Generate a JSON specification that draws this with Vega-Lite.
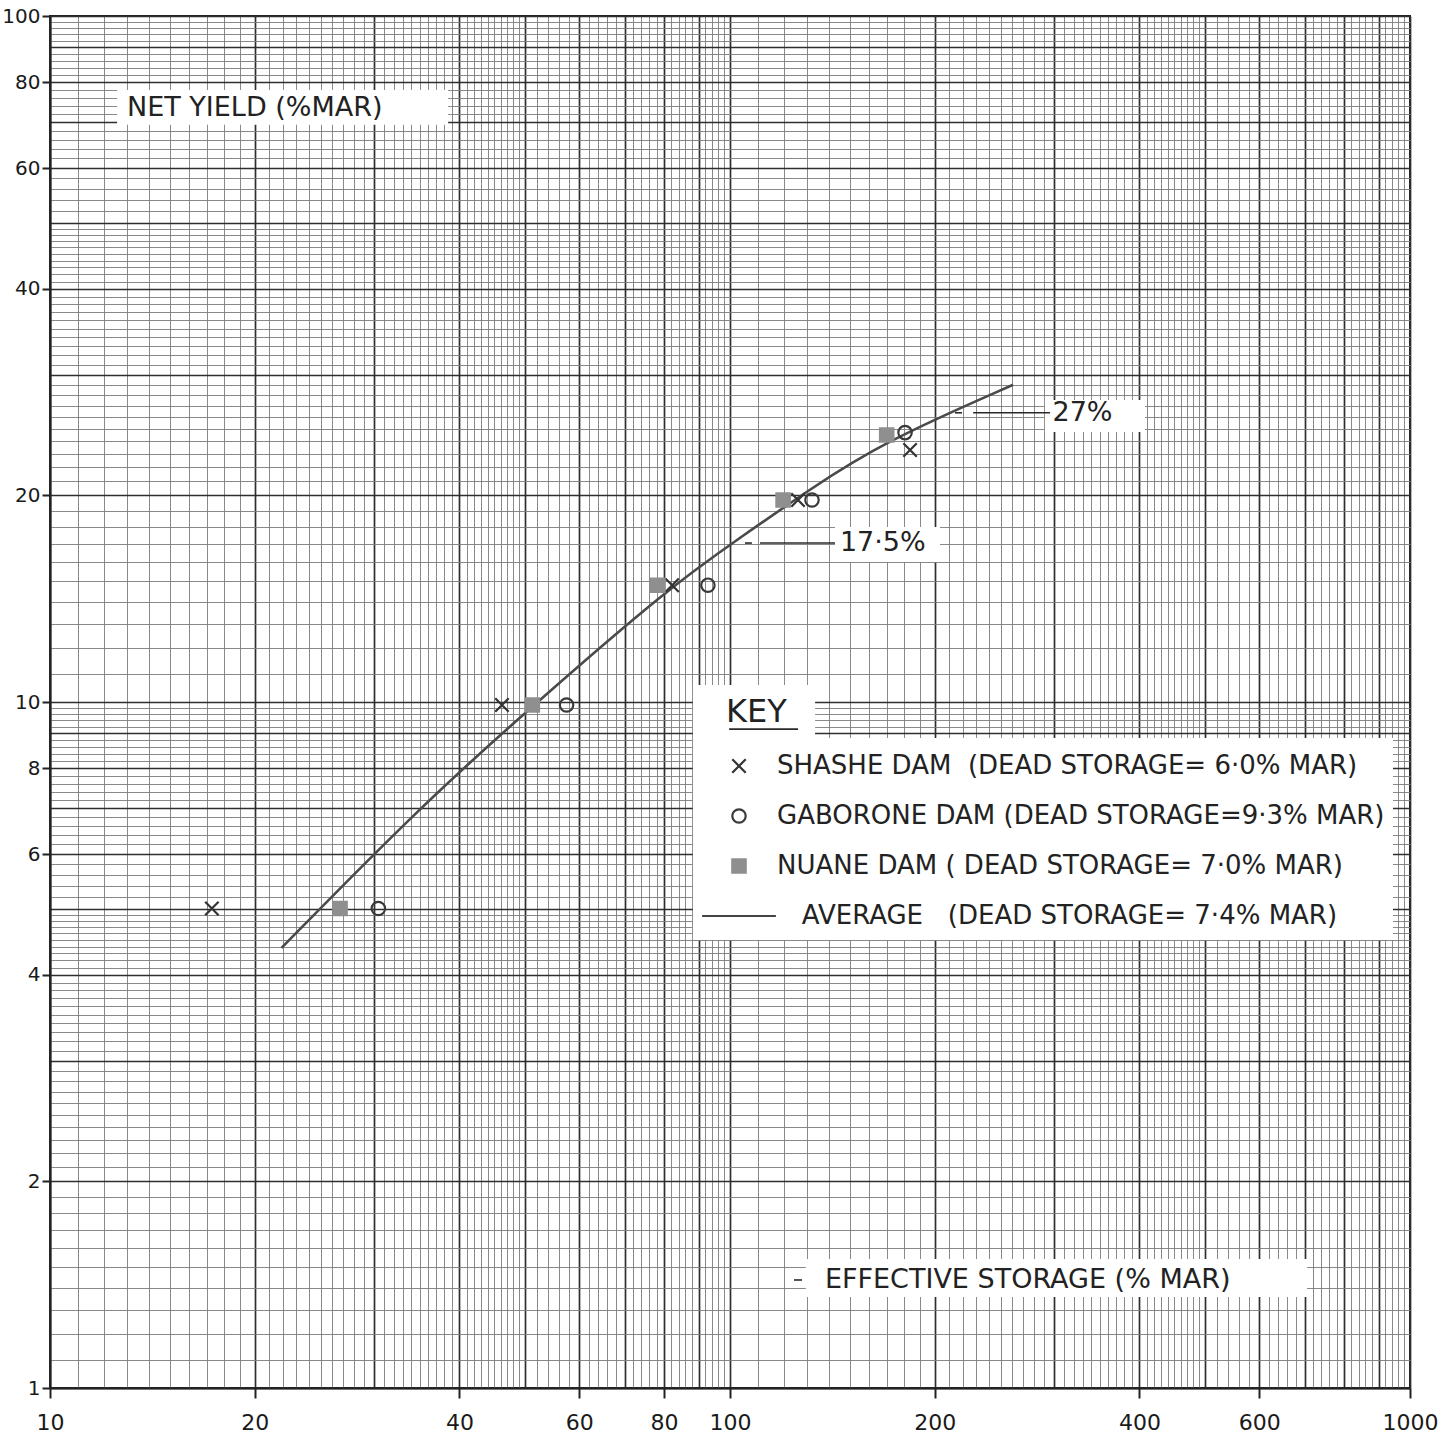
{
  "$schema": "https://vega.github.io/schema/vega-lite/v6.json",
  "autosize": "none",
  "width": 1360,
  "height": 1372,
  "padding": {"left": 50, "top": 16, "right": 34, "bottom": 58},
  "background": "white",
  "config": {
    "view": {"stroke": "#222", "strokeWidth": 2},
    "font": "DejaVu Sans"
  },
  "datasets": {
    "points": [
      {"dam": "Shashe", "storage": 17.3, "yield": 5.0},
      {"dam": "Shashe", "storage": 46.2, "yield": 9.9},
      {"dam": "Shashe", "storage": 82.2, "yield": 14.8},
      {"dam": "Shashe", "storage": 125.9, "yield": 19.7},
      {"dam": "Shashe", "storage": 184, "yield": 23.3},
      {"dam": "Gaborone", "storage": 30.4, "yield": 5.0},
      {"dam": "Gaborone", "storage": 57.5, "yield": 9.9},
      {"dam": "Gaborone", "storage": 92.8, "yield": 14.8},
      {"dam": "Gaborone", "storage": 132, "yield": 19.7},
      {"dam": "Gaborone", "storage": 180.9, "yield": 24.7},
      {"dam": "Nuane", "storage": 26.7, "yield": 5.0},
      {"dam": "Nuane", "storage": 51.2, "yield": 9.9},
      {"dam": "Nuane", "storage": 78.3, "yield": 14.8},
      {"dam": "Nuane", "storage": 119.7, "yield": 19.7},
      {"dam": "Nuane", "storage": 170, "yield": 24.5}
    ],
    "average": [
      {"storage": 21.9, "yield": 4.38},
      {"storage": 35.0, "yield": 7.03},
      {"storage": 51.0, "yield": 9.83},
      {"storage": 81.6, "yield": 14.72},
      {"storage": 103.4, "yield": 17.34},
      {"storage": 129.8, "yield": 20.3},
      {"storage": 167.9, "yield": 23.93},
      {"storage": 260.8, "yield": 29.0}
    ],
    "boxes": [
      {"part": "yield title", "storage": 12.55, "storage2": 38.5, "yield": 78.0, "yield2": 69.4},
      {"part": "storage title", "storage": 129.3, "storage2": 705.6, "yield": 1.542, "yield2": 1.357},
      {"part": "27 note", "storage": 290.5, "storage2": 407.6, "yield": 27.55, "yield2": 24.75},
      {"part": "17.5 note", "storage": 142.7, "storage2": 203.6, "yield": 17.99, "yield2": 16.0},
      {"part": "key", "storage": 88.2, "storage2": 944, "yield": 8.86, "yield2": 4.5},
      {"part": "key heading", "storage": 88.2, "storage2": 133.4, "yield": 10.59, "yield2": 8.8}
    ],
    "leaders": [
      {"part": "27 note", "storage": 227.8, "storage2": 295.6, "yield": 26.4},
      {"part": "27 note dash", "storage": 214.2, "storage2": 219.4, "yield": 26.4},
      {"part": "17.5 note", "storage": 110.7, "storage2": 142.7, "yield": 17.05},
      {"part": "17.5 note dash", "storage": 105.2, "storage2": 107.7, "yield": 17.05},
      {"part": "storage title dash", "storage": 124.2, "storage2": 127.6, "yield": 1.437},
      {"part": "key underline", "storage": 99.7, "storage2": 125.9, "yield": 9.13}
    ],
    "titles": [
      {"label": "NET   YIELD (%MAR)", "storage": 12.98, "yield": 73.4},
      {"label": "EFFECTIVE  STORAGE  (% MAR)", "storage": 137.9, "yield": 1.437}
    ],
    "notes": [
      {"label": "27%", "storage": 298, "yield": 26.4},
      {"label": "17·5%", "storage": 145.1, "yield": 17.05}
    ]
  },
  "encoding": {
    "x": {
      "field": "storage",
      "type": "quantitative",
      "scale": {"type": "log", "domain": [10, 1000], "nice": false},
      "axis": {
        "title": null,
        "values": [10,11,12,13,14,15,16,17,18,19,20,21,22,23,24,25,26,27,28,29,30,31,32,33,34,35,36,37,38,39,40,41,42,43,44,45,46,47,48,49,50,52,54,56,58,60,62,64,66,68,70,72,74,76,78,80,82,84,86,88,90,92,94,96,98,100,110,120,130,140,150,160,170,180,190,200,210,220,230,240,250,260,270,280,290,300,310,320,330,340,350,360,370,380,390,400,410,420,430,440,450,460,470,480,490,500,520,540,560,580,600,620,640,660,680,700,720,740,760,780,800,820,840,860,880,900,920,940,960,980,1000],
        "grid": true,
        "gridColor": {"condition": {"test": "abs(datum.value/pow(10,floor(log(datum.value)/LN10+1e-9)) - round(datum.value/pow(10,floor(log(datum.value)/LN10+1e-9)))) < 1e-6", "value": "#2e2e2e"}, "value": "#7c7c7c"},
        "gridWidth": {"condition": {"test": "abs(datum.value/pow(10,floor(log(datum.value)/LN10+1e-9)) - round(datum.value/pow(10,floor(log(datum.value)/LN10+1e-9)))) < 1e-6", "value": 1.7}, "value": 0.9},
        "gridOpacity": 1,
        "domain": true,
        "domainColor": "#222",
        "domainWidth": 2,
        "tickSize": 10,
        "tickWidth": 2,
        "tickColor": "#222",
        "tickOpacity": {"condition": {"test": "indexof([10,20,40,60,80,100,200,400,600,1000], datum.value) >= 0", "value": 1}, "value": 0},
        "labelExpr": "indexof([10,20,40,60,80,100,200,400,600,1000], datum.value) >= 0 ? format(datum.value, 'd') : ''",
        "labelFont": "DejaVu Sans",
        "labelFontSize": 22,
        "labelColor": "#1a1a1a",
        "labelPadding": 14,
        "labelOverlap": false,
        "labelFlush": false,
        "labelBound": false
      }
    },
    "y": {
      "field": "yield",
      "type": "quantitative",
      "scale": {"type": "log", "domain": [1, 100], "nice": false},
      "axis": {
        "title": null,
        "values": [1,1.1,1.2,1.3,1.4,1.5,1.6,1.7,1.8,1.9,2,2.1,2.2,2.3,2.4,2.5,2.6,2.7,2.8,2.9,3,3.1,3.2,3.3,3.4,3.5,3.6,3.7,3.8,3.9,4,4.1,4.2,4.3,4.4,4.5,4.6,4.7,4.8,4.9,5,5.2,5.4,5.6,5.8,6,6.2,6.4,6.6,6.8,7,7.2,7.4,7.6,7.8,8,8.2,8.4,8.6,8.8,9,9.2,9.4,9.6,9.8,10,11,12,13,14,15,16,17,18,19,20,21,22,23,24,25,26,27,28,29,30,31,32,33,34,35,36,37,38,39,40,41,42,43,44,45,46,47,48,49,50,52,54,56,58,60,62,64,66,68,70,72,74,76,78,80,82,84,86,88,90,92,94,96,98,100],
        "grid": true,
        "gridColor": {"condition": {"test": "abs(datum.value/pow(10,floor(log(datum.value)/LN10+1e-9)) - round(datum.value/pow(10,floor(log(datum.value)/LN10+1e-9)))) < 1e-6", "value": "#2e2e2e"}, "value": "#7c7c7c"},
        "gridWidth": {"condition": {"test": "abs(datum.value/pow(10,floor(log(datum.value)/LN10+1e-9)) - round(datum.value/pow(10,floor(log(datum.value)/LN10+1e-9)))) < 1e-6", "value": 1.7}, "value": 0.9},
        "gridOpacity": 1,
        "domain": true,
        "domainColor": "#222",
        "domainWidth": 2,
        "tickSize": 8,
        "tickWidth": 2,
        "tickColor": "#222",
        "tickOpacity": {"condition": {"test": "indexof([1,2,4,6,8,10,20,40,60,80,100], datum.value) >= 0", "value": 1}, "value": 0},
        "labelExpr": "indexof([1,2,4,6,8,10,20,40,60,80,100], datum.value) >= 0 ? format(datum.value, 'd') : ''",
        "labelFont": "DejaVu Sans",
        "labelFontSize": 20,
        "labelColor": "#1a1a1a",
        "labelPadding": 2,
        "labelOverlap": false,
        "labelFlush": false,
        "labelBound": false
      }
    }
  },
  "layer": [
    {
      "data": {"name": "boxes"},
      "mark": {"type": "rect", "fill": "white", "stroke": null},
      "encoding": {
        "x2": {"field": "storage2"},
        "y2": {"field": "yield2"}
      }
    },
    {
      "data": {"name": "leaders"},
      "mark": {"type": "rule", "stroke": "#2a2a2a", "strokeWidth": 1.6},
      "encoding": {
        "x2": {"field": "storage2"}
      }
    },
    {
      "data": {"name": "average"},
      "mark": {"type": "line", "stroke": "#4a4a4a", "strokeWidth": 2.6, "interpolate": "basis"}
    },
    {
      "data": {"name": "points"},
      "mark": {"type": "point", "size": 180, "strokeWidth": 2.2, "opacity": 1},
      "encoding": {
        "shape": {
          "field": "dam", "type": "nominal",
          "scale": {"domain": ["Shashe", "Gaborone", "Nuane", "Average"], "range": ["M-1,-1L1,1M-1,1L1,-1", "circle", "square", "M-5.5,0L5.5,0"]},
          "legend": {"orient": "none", "legendX": 676, "legendY": 681, "title": "KEY", "titleFont": "DejaVu Sans", "titleFontSize": 32, "titleFontWeight": "normal", "titleColor": "#222", "titlePadding": 24, "labelFont": "DejaVu Sans", "labelFontSize": 26, "labelColor": "#222", "labelLimit": 0, "labelOffset": 25, "symbolSize": 180, "symbolStrokeWidth": 2.2, "symbolOpacity": 1, "rowPadding": 24, "padding": 0,
            "labelExpr": "datum.value == 'Shashe' ? 'SHASHE DAM\u00a0 (DEAD STORAGE= 6·0% MAR)' : datum.value == 'Gaborone' ? 'GABORONE DAM (DEAD STORAGE=9·3% MAR)' : datum.value == 'Nuane' ? 'NUANE DAM ( DEAD STORAGE= 7·0% MAR)' : '\u200b\u00a0\u00a0\u00a0AVERAGE\u00a0\u00a0 (DEAD STORAGE= 7·4% MAR)'"}
        },
        "fill": {
          "field": "dam", "type": "nominal",
          "scale": {"domain": ["Shashe", "Gaborone", "Nuane", "Average"], "range": ["transparent", "transparent", "#8f8f8f", "transparent"]},
          "legend": {"orient": "none", "legendX": 676, "legendY": 681, "title": "KEY", "titleFont": "DejaVu Sans", "titleFontSize": 32, "titleFontWeight": "normal", "titleColor": "#222", "titlePadding": 24, "labelFont": "DejaVu Sans", "labelFontSize": 26, "labelColor": "#222", "labelLimit": 0, "labelOffset": 25, "symbolSize": 180, "symbolStrokeWidth": 2.2, "symbolOpacity": 1, "rowPadding": 24, "padding": 0,
            "labelExpr": "datum.value == 'Shashe' ? 'SHASHE DAM\u00a0 (DEAD STORAGE= 6·0% MAR)' : datum.value == 'Gaborone' ? 'GABORONE DAM (DEAD STORAGE=9·3% MAR)' : datum.value == 'Nuane' ? 'NUANE DAM ( DEAD STORAGE= 7·0% MAR)' : '\u200b\u00a0\u00a0\u00a0AVERAGE\u00a0\u00a0 (DEAD STORAGE= 7·4% MAR)'"}
        },
        "stroke": {
          "field": "dam", "type": "nominal",
          "scale": {"domain": ["Shashe", "Gaborone", "Nuane", "Average"], "range": ["#333333", "#3a3a3a", "#8f8f8f", "#444444"]},
          "legend": {"orient": "none", "legendX": 676, "legendY": 681, "title": "KEY", "titleFont": "DejaVu Sans", "titleFontSize": 32, "titleFontWeight": "normal", "titleColor": "#222", "titlePadding": 24, "labelFont": "DejaVu Sans", "labelFontSize": 26, "labelColor": "#222", "labelLimit": 0, "labelOffset": 25, "symbolSize": 180, "symbolStrokeWidth": 2.2, "symbolOpacity": 1, "rowPadding": 24, "padding": 0,
            "labelExpr": "datum.value == 'Shashe' ? 'SHASHE DAM\u00a0 (DEAD STORAGE= 6·0% MAR)' : datum.value == 'Gaborone' ? 'GABORONE DAM (DEAD STORAGE=9·3% MAR)' : datum.value == 'Nuane' ? 'NUANE DAM ( DEAD STORAGE= 7·0% MAR)' : '\u200b\u00a0\u00a0\u00a0AVERAGE\u00a0\u00a0 (DEAD STORAGE= 7·4% MAR)'"}
        }
      }
    },
    {
      "data": {"name": "titles"},
      "mark": {"type": "text", "align": "left", "baseline": "middle", "font": "DejaVu Sans", "fontSize": 27, "fill": "#222"},
      "encoding": {"text": {"field": "label"}}
    },
    {
      "data": {"name": "notes"},
      "mark": {"type": "text", "align": "left", "baseline": "middle", "font": "DejaVu Sans", "fontSize": 27, "fill": "#222"},
      "encoding": {"text": {"field": "label"}}
    }
  ]
}
